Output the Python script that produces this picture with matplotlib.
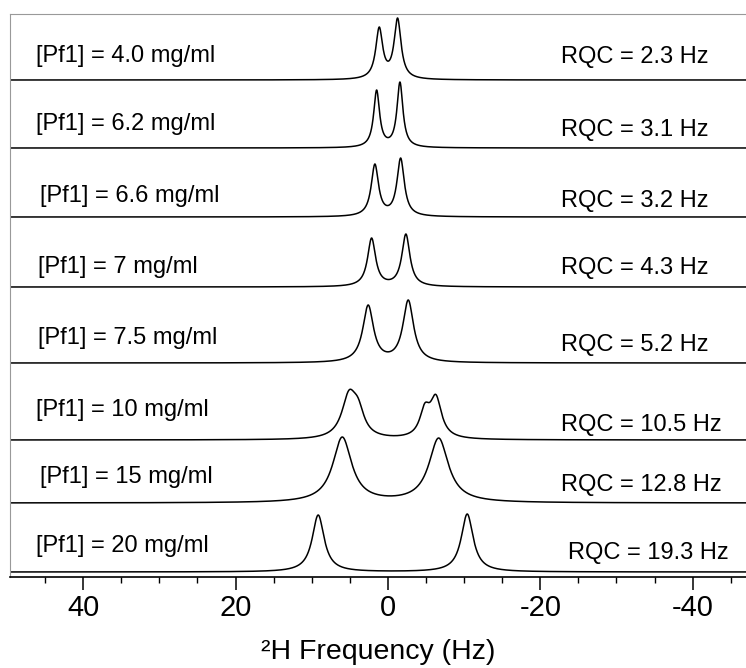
import numpy as np
import matplotlib
matplotlib.use("Agg")
import matplotlib.pyplot as plt
from matplotlib.ticker import MultipleLocator

plt.rcParams['font.family'] = ['Liberation Sans', 'DejaVu Sans']
plt.rcParams['axes.unicode_minus'] = False

# data, top spectrum first
conc_labels = ["[Pf1] = 4.0 mg/ml", "[Pf1] = 6.2 mg/ml", "[Pf1] = 6.6 mg/ml",
               "[Pf1] = 7 mg/ml", "[Pf1] = 7.5 mg/ml", "[Pf1] = 10 mg/ml",
               "[Pf1] = 15 mg/ml", "[Pf1] = 20 mg/ml"]
rqc_labels = ["RQC = 2.3 Hz", "RQC = 3.1 Hz", "RQC = 3.2 Hz", "RQC = 4.3 Hz",
              "RQC = 5.2 Hz", "RQC = 10.5 Hz", "RQC = 12.8 Hz", "RQC = 19.3 Hz"]

# stacking offset of each spectrum baseline
offsets = [497, 429, 360, 290, 214, 137, 74, 5]

# peak centres (Hz), observed peak heights and half widths (Hz)
peak_centers = [[1.14, -1.27], [1.48, -1.58], [1.71, -1.67], [2.14, -2.36],
                [2.59, -2.67], [5.1, 3.9, -4.85, -6.3], [5.99, -6.66],
                [9.15, -10.41]]
peak_heights = [[53, 62], [58, 66], [53, 59], [49, 53], [58, 63],
                [50, 42, 37, 45.5], [66, 65], [57, 58]]
peak_widths = [[0.55, 0.55], [0.47, 0.47], [0.58, 0.58], [0.64, 0.64],
               [0.85, 0.85], [1.15, 0.95, 0.8, 0.9], [1.5, 1.55], [0.95, 0.95]]


def lorentz(x, x0, g):
    return g**2 / ((x - x0)**2 + g**2)


def spectrum(x, centers, heights, widths):
    # solve for amplitudes so the summed curve hits the read heights
    c = np.array(centers)
    M = np.array([[lorentz(ci, cj, wj) for cj, wj in zip(centers, widths)]
                  for ci in c])
    amps = np.clip(np.linalg.solve(M, np.array(heights, float)), 0, None)
    y = np.zeros_like(x)
    for a, cj, wj in zip(amps, centers, widths):
        y += a * lorentz(x, cj, wj)
    return y


fig = plt.figure(figsize=(7.46, 6.68), dpi=100)
ax = fig.add_axes([10/746, 91/668, 736/746, 563/668])

freq = np.linspace(49.6, -47.0, 3000)
for off, c, h, w in zip(offsets, peak_centers, peak_heights, peak_widths):
    ax.plot(freq, off + spectrum(freq, c, h, w), color='black', lw=1.1)

# text positions in pixels of the figure
lab_x = [36, 36, 40, 38, 38, 36, 40, 36]
lab_y = [56, 124, 196, 267, 338, 410, 477, 546]
rqc_x = [561, 561, 561, 561, 561, 561, 561, 568]
rqc_y = [57, 130, 201, 268, 345, 425, 485, 553]
for i in range(len(conc_labels)):
    fig.text(lab_x[i]/746, 1 - lab_y[i]/668, conc_labels[i], fontsize=17,
             ha='left', va='center')
    fig.text(rqc_x[i]/746, 1 - rqc_y[i]/668, rqc_labels[i], fontsize=17,
             ha='left', va='center')

ax.set_xlim(49.6, -47.0)
ax.set_ylim(0, 563)
ax.xaxis.set_major_locator(MultipleLocator(20))
ax.xaxis.set_minor_locator(MultipleLocator(5))
ax.tick_params(axis='x', which='major', direction='out', length=9.5,
               width=1.1, labelsize=21, pad=3)
ax.tick_params(axis='x', which='minor', direction='out', length=4, width=1.0)
ax.set_yticks([])
ax.spines['right'].set_visible(False)
ax.spines['top'].set_color('#999999')
ax.spines['left'].set_color('#999999')
ax.spines['bottom'].set_linewidth(1.2)
ax.set_xlabel("²H Frequency (Hz)", fontsize=20.5, labelpad=12)

fig.savefig("out.png", dpi=100)
